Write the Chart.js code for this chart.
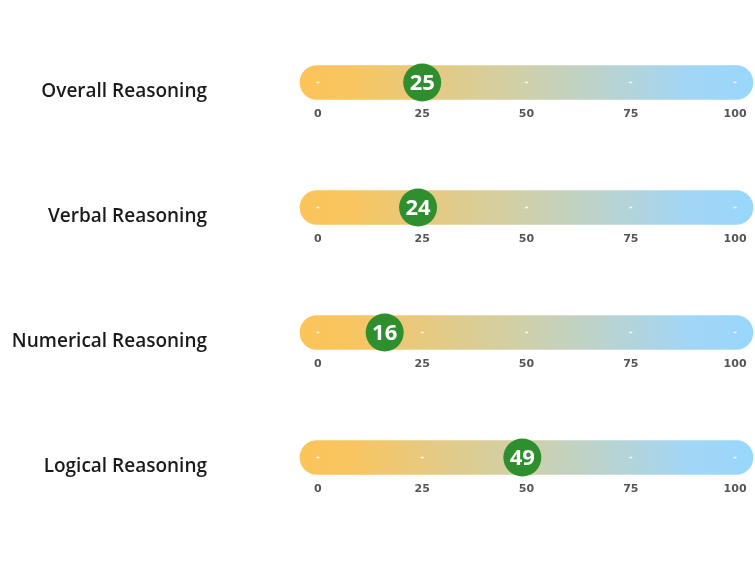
<!DOCTYPE html>
<html lang="en">
<head>
<meta charset="UTF-8">
<title>Reasoning scores</title>
<script src="https://cdn.jsdelivr.net/npm/chart.js"></script>
<style>
  body { margin: 0; background: #fff; }
</style>
</head>
<body>
<canvas id="scoreChart" width="755" height="567"></canvas>
<script>
// data
const categories = ['Overall Reasoning', 'Verbal Reasoning', 'Numerical Reasoning', 'Logical Reasoning'];
const scores = [25, 24, 16, 49];
const tickValues = [0, 25, 50, 75, 100];
const trackRange = [-4.3, 104.3];

// tick labels under each track + little white dashes inside it
const rowTicks = {
  id: 'rowTicks',
  afterDatasetDraw(chart, args) {
    if (args.index !== 0) return;
    const x = chart.scales.x, y = chart.scales.y;
    const ctx = chart.ctx;
    ctx.save();
    categories.forEach((c, i) => {
      const cy = y.getPixelForValue(i);
      ctx.strokeStyle = 'rgba(255,255,255,0.85)';
      ctx.lineWidth = 1.5;
      ctx.fillStyle = '#555';
      ctx.font = 'bold 11px "DejaVu Sans"';
      ctx.textAlign = 'center';
      ctx.textBaseline = 'middle';
      tickValues.forEach(v => {
        const px = x.getPixelForValue(v);
        ctx.beginPath();
        ctx.moveTo(px - 1.5, cy);
        ctx.lineTo(px + 1.5, cy);
        ctx.stroke();
        ctx.fillText(String(v), px, cy + 32);
      });
    });
    ctx.restore();
  }
};

// score number on the green dot
const scoreText = {
  id: 'scoreText',
  afterDatasetsDraw(chart) {
    const meta = chart.getDatasetMeta(1);
    const ctx = chart.ctx;
    ctx.save();
    ctx.fillStyle = '#fff';
    ctx.font = 'bold 22px "Open Sans"';
    ctx.textAlign = 'center';
    ctx.textBaseline = 'middle';
    meta.data.forEach((pt, i) => {
      ctx.fillText(String(scores[i]), pt.x, pt.y + 1);
    });
    ctx.restore();
  }
};

const ctx = document.getElementById('scoreChart').getContext('2d');
const scoreChart = new Chart(ctx, {
  type: 'bar',
  data: {
    labels: categories,
    datasets: [{
      type: 'bar',
      data: categories.map((c, i) => ({ x: trackRange, y: i })),
      barThickness: 34,
      borderRadius: 17,
      borderSkipped: false,
      clip: false,
      order: 2,
      backgroundColor: function (c) {
        const area = c.chart.chartArea;
        if (!area) return '#fbc45c';
        const g = c.chart.ctx.createLinearGradient(area.left, 0, area.right, 0);
        g.addColorStop(0, '#fcc45a');
        g.addColorStop(0.12, '#f7c561');
        g.addColorStop(0.5, '#cfd0ab');
        g.addColorStop(0.85, '#a3d6f4');
        g.addColorStop(1, '#98d7fd');
        return g;
      }
    }, {
      type: 'scatter',
      data: scores.map((s, i) => ({ x: s, y: i })),
      pointRadius: 19,
      pointHoverRadius: 19,
      backgroundColor: '#2f8f2e',
      borderWidth: 0,
      clip: false,
      order: 1
    }]
  },
  options: {
    indexAxis: 'y',
    responsive: false,
    animation: false,
    layout: { autoPadding: false, padding: { top: 20, right: 2, bottom: 47, left: 0 } },
    plugins: { legend: { display: false }, tooltip: { enabled: false } },
    scales: {
      x: {
        type: 'linear',
        min: trackRange[0],
        max: trackRange[1],
        display: false
      },
      y: {
        type: 'linear',
        reverse: true,
        min: 0,
        max: categories.length - 1,
        afterBuildTicks: function (s) { s.ticks = categories.map((c, i) => ({ value: i })); },
        afterFit: function (s) {
          s.width = 300;
          s.paddingTop = 0;
          s.paddingBottom = 0;
        },
        grid: { display: false, drawTicks: false },
        border: { display: false },
        ticks: {
          padding: 93,
          labelOffset: 9,
          color: '#1a1a1a',
          font: { family: 'Open Sans', size: 19, weight: '600' },
          callback: function (v) { return categories[v]; }
        }
      }
    }
  },
  plugins: [rowTicks, scoreText]
});
</script>
</body>
</html>
